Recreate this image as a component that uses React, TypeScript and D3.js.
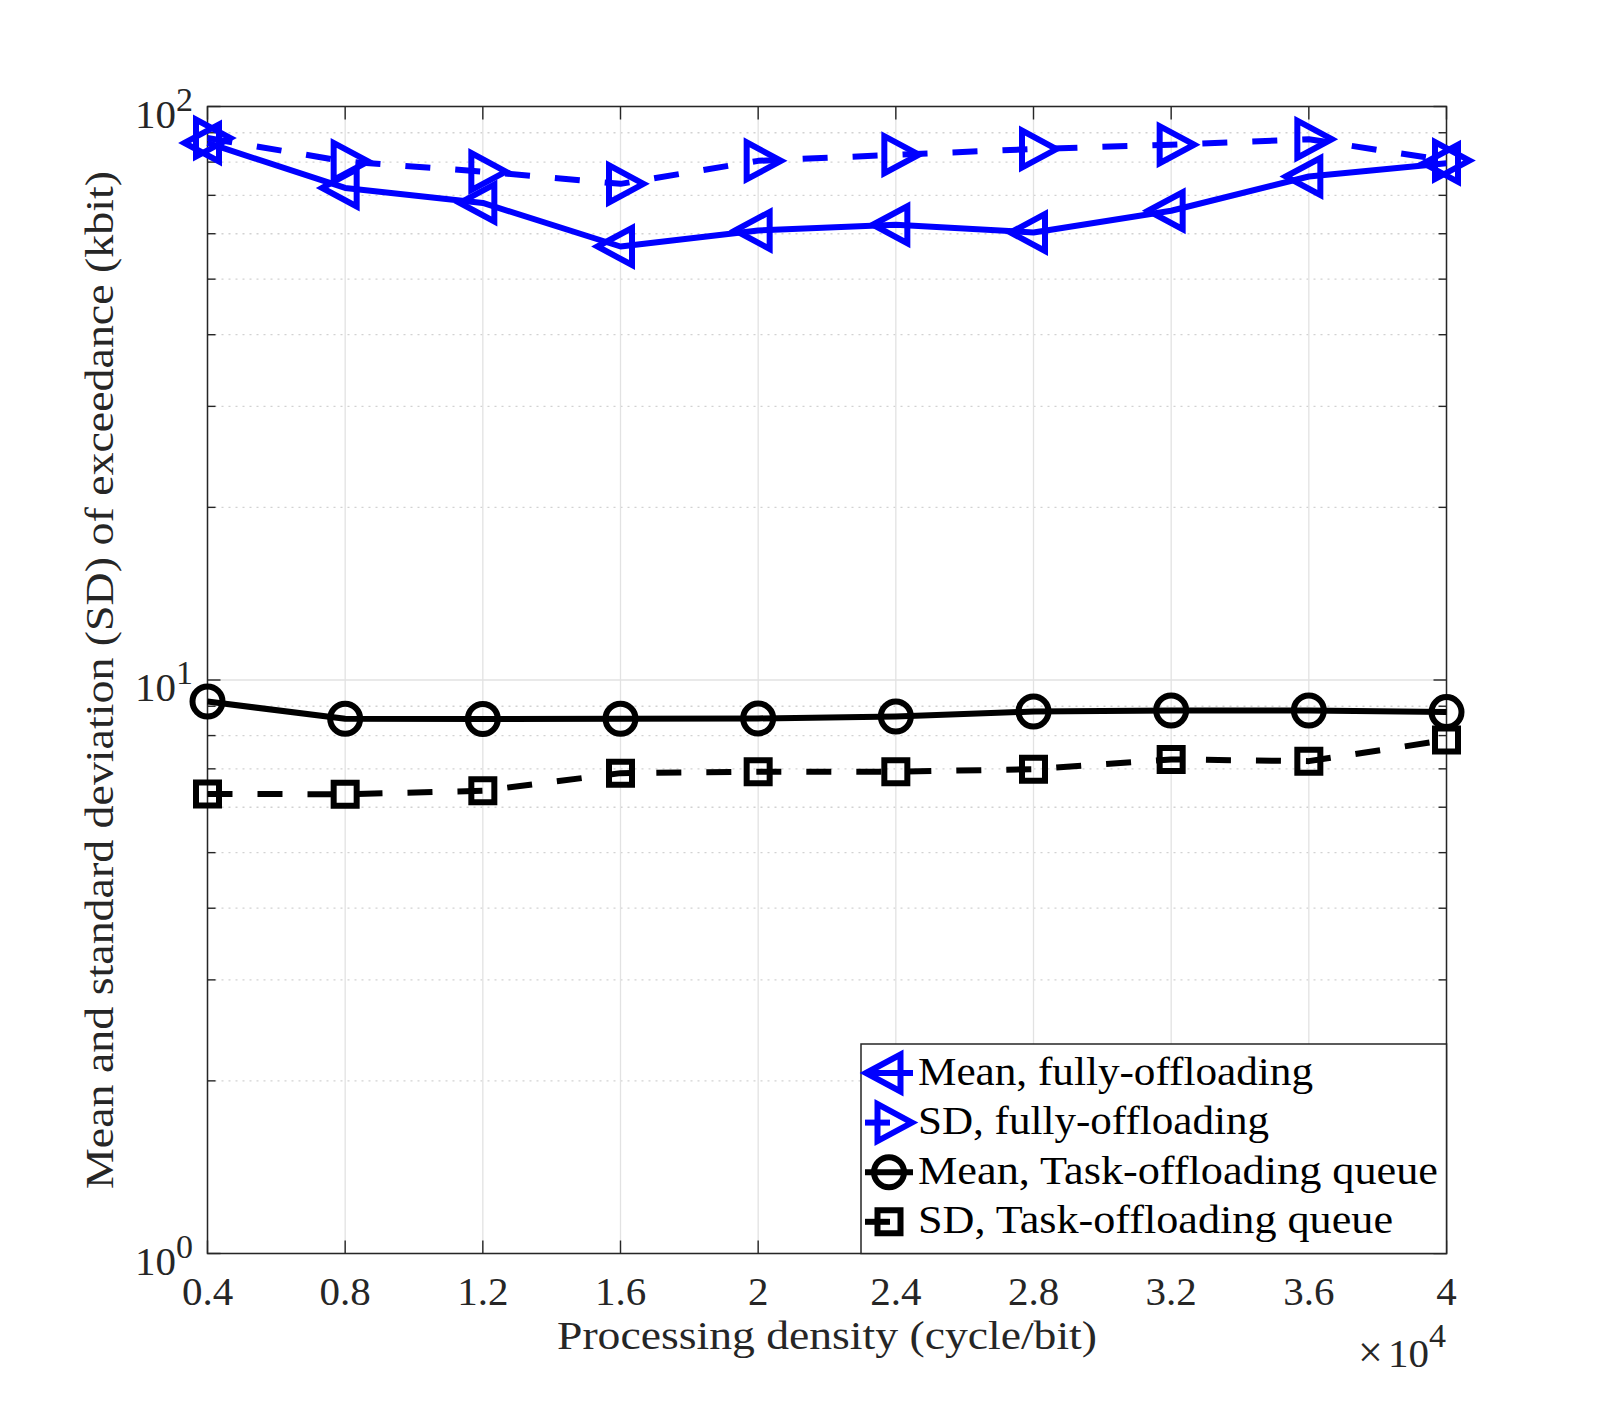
import React, { useEffect, useRef } from 'react';
import * as d3 from 'd3';

// processing density, in units of 10^4 cycle/bit
const processingDensity = [0.4, 0.8, 1.2, 1.6, 2.0, 2.4, 2.8, 3.2, 3.6, 4.0];
const xTickLabels = ['0.4', '0.8', '1.2', '1.6', '2', '2.4', '2.8', '3.2', '3.6', '4'];

// kbit
const meanFully = [86.4, 72.1, 67.9, 57.0, 60.8, 62.2, 60.3, 65.8, 75.5, 79.6];
const sdFully = [88.1, 80.2, 77.0, 73.3, 80.4, 82.4, 84.3, 85.8, 87.7, 80.5];
const meanTask = [9.17, 8.56, 8.55, 8.56, 8.57, 8.64, 8.81, 8.85, 8.85, 8.79];
const sdTask = [6.33, 6.32, 6.41, 6.88, 6.92, 6.92, 6.99, 7.27, 7.22, 7.86];

const yTickExponents = [0, 1, 2];
const legendLabels = [
  'Mean, fully-offloading',
  'SD, fully-offloading',
  'Mean, Task-offloading queue',
  'SD, Task-offloading queue',
];

const App = () => {
  const chartRef = useRef<SVGSVGElement>(null);

  useEffect(() => {
    const svg = d3.select(chartRef.current);
    svg.selectAll('*').remove();

    const left = 207.5;
    const right = 1446.5;
    const top = 106.5;
    const bottom = 1253.5;
    const font = '"Liberation Serif", "Times New Roman", serif';
    const axisColor = '#262626';
    const blue = '#0000ff';

    const x = d3.scaleLinear().domain([0.4, 4]).range([left, right]);
    const y = d3.scaleLog().domain([1, 100]).range([bottom, top]);

    // minor grid (dotted)
    const minorVals: number[] = [];
    [1, 10].forEach((dec) => {
      for (let k = 2; k <= 9; k++) minorVals.push(k * dec);
    });
    svg
      .append('g')
      .selectAll('line')
      .data(minorVals)
      .enter()
      .append('line')
      .attr('x1', left)
      .attr('x2', right)
      .attr('y1', (d) => y(d))
      .attr('y2', (d) => y(d))
      .attr('stroke', '#d2d2d2')
      .attr('stroke-width', 1.3)
      .attr('stroke-dasharray', '2,5');

    // major grid
    svg
      .append('g')
      .selectAll('line')
      .data(processingDensity)
      .enter()
      .append('line')
      .attr('x1', (d) => x(d))
      .attr('x2', (d) => x(d))
      .attr('y1', top)
      .attr('y2', bottom)
      .attr('stroke', '#e2e2e2')
      .attr('stroke-width', 1.3);
    svg
      .append('g')
      .selectAll('line')
      .data(yTickExponents.map((e) => Math.pow(10, e)))
      .enter()
      .append('line')
      .attr('x1', left)
      .attr('x2', right)
      .attr('y1', (d) => y(d))
      .attr('y2', (d) => y(d))
      .attr('stroke', '#e2e2e2')
      .attr('stroke-width', 1.3);

    // ticks (inside, on all four sides)
    const ticks = svg.append('g').attr('stroke', axisColor).attr('stroke-width', 1.4);
    processingDensity.forEach((d) => {
      ticks.append('line').attr('x1', x(d)).attr('x2', x(d)).attr('y1', bottom).attr('y2', bottom - 13);
      ticks.append('line').attr('x1', x(d)).attr('x2', x(d)).attr('y1', top).attr('y2', top + 13);
    });
    yTickExponents.forEach((e) => {
      const v = Math.pow(10, e);
      ticks.append('line').attr('x1', left).attr('x2', left + 13).attr('y1', y(v)).attr('y2', y(v));
      ticks.append('line').attr('x1', right).attr('x2', right - 13).attr('y1', y(v)).attr('y2', y(v));
    });
    minorVals.forEach((v) => {
      ticks.append('line').attr('x1', left).attr('x2', left + 8).attr('y1', y(v)).attr('y2', y(v));
      ticks.append('line').attr('x1', right).attr('x2', right - 8).attr('y1', y(v)).attr('y2', y(v));
    });

    // axes box
    svg
      .append('rect')
      .attr('x', left)
      .attr('y', top)
      .attr('width', right - left)
      .attr('height', bottom - top)
      .attr('fill', 'none')
      .attr('stroke', axisColor)
      .attr('stroke-width', 1.5);

    // x tick labels
    svg
      .append('g')
      .selectAll('text')
      .data(processingDensity)
      .enter()
      .append('text')
      .attr('x', (d) => x(d))
      .attr('y', 1305)
      .attr('text-anchor', 'middle')
      .attr('font-family', font)
      .attr('font-size', 41)
      .attr('fill', axisColor)
      .text((d, i) => xTickLabels[i]);

    // y tick labels 10^e
    yTickExponents.forEach((e) => {
      const ty = y(Math.pow(10, e));
      svg
        .append('text')
        .attr('x', 176)
        .attr('y', ty + 21)
        .attr('text-anchor', 'end')
        .attr('font-family', font)
        .attr('font-size', 41)
        .attr('fill', axisColor)
        .text('10');
      svg
        .append('text')
        .attr('x', 176)
        .attr('y', ty + 4)
        .attr('font-family', font)
        .attr('font-size', 34)
        .attr('fill', axisColor)
        .text(String(e));
    });

    // x exponent
    svg
      .append('text')
      .attr('x', 1358)
      .attr('y', 1367)
      .attr('font-family', font)
      .attr('font-size', 44)
      .attr('fill', axisColor)
      .text('×');
    svg
      .append('text')
      .attr('x', 1388)
      .attr('y', 1367)
      .attr('font-family', font)
      .attr('font-size', 41)
      .attr('fill', axisColor)
      .text('10');
    svg
      .append('text')
      .attr('x', 1429)
      .attr('y', 1347)
      .attr('font-family', font)
      .attr('font-size', 34)
      .attr('fill', axisColor)
      .text('4');

    // axis labels
    svg
      .append('text')
      .attr('x', (left + right) / 2)
      .attr('y', 1349)
      .attr('text-anchor', 'middle')
      .attr('font-family', font)
      .attr('font-size', 41)
      .attr('textLength', 540)
      .attr('lengthAdjust', 'spacingAndGlyphs')
      .attr('fill', axisColor)
      .text('Processing density (cycle/bit)');
    svg
      .append('text')
      .attr('transform', `translate(113, ${(top + bottom) / 2}) rotate(-90)`)
      .attr('text-anchor', 'middle')
      .attr('font-family', font)
      .attr('font-size', 41)
      .attr('textLength', 1018)
      .attr('lengthAdjust', 'spacingAndGlyphs')
      .attr('fill', axisColor)
      .text('Mean and standard deviation (SD) of exceedance (kbit)');

    // series
    const series = [
      { values: meanFully, color: blue, dash: null, marker: 'left' },
      { values: sdFully, color: blue, dash: '25,25', marker: 'right' },
      { values: meanTask, color: '#000', dash: null, marker: 'circle' },
      { values: sdTask, color: '#000', dash: '25,25', marker: 'square' },
    ];

    const drawMarker = (g: any, kind: string, color: string) => {
      if (kind === 'circle') {
        g.append('circle').attr('r', 15);
      } else {
        const d =
          kind === 'left'
            ? 'M-23,0L11.5,-18.5L11.5,18.5Z'
            : kind === 'right'
            ? 'M23,0L-11.5,-18.5L-11.5,18.5Z'
            : 'M-11.5,-11.5H11.5V11.5H-11.5Z';
        g.append('path').attr('d', d);
      }
      g.selectAll('*')
        .attr('fill', 'none')
        .attr('stroke', color)
        .attr('stroke-width', 6)
        .attr('stroke-linejoin', 'miter');
    };

    const line = d3
      .line<number>()
      .x((d, i) => x(processingDensity[i]))
      .y((d) => y(d));

    series.forEach((s) => {
      svg
        .append('path')
        .attr('d', line(s.values))
        .attr('fill', 'none')
        .attr('stroke', s.color)
        .attr('stroke-width', 6)
        .attr('stroke-dasharray', s.dash)
        .attr('stroke-linejoin', 'round');
      s.values.forEach((v, i) => {
        const g = svg.append('g').attr('transform', `translate(${x(processingDensity[i])}, ${y(v)})`);
        drawMarker(g, s.marker, s.color);
      });
    });

    // legend
    const lg = svg.append('g');
    lg.append('rect')
      .attr('x', 861)
      .attr('y', 1044)
      .attr('width', right - 861)
      .attr('height', bottom - 1044)
      .attr('fill', '#fff')
      .attr('stroke', axisColor)
      .attr('stroke-width', 1.5);
    const legendWidths = [395, 351, 520, 475];
    series.forEach((s, i) => {
      const cy = 1073 + i * 49.6;
      lg.append('line')
        .attr('x1', 865)
        .attr('x2', 913)
        .attr('y1', cy)
        .attr('y2', cy)
        .attr('stroke', s.color)
        .attr('stroke-width', 6)
        .attr('stroke-dasharray', s.dash);
      const g = lg.append('g').attr('transform', `translate(889, ${cy})`);
      drawMarker(g, s.marker, s.color);
      lg.append('text')
        .attr('x', 918)
        .attr('y', cy + 11.5)
        .attr('font-family', font)
        .attr('font-size', 41)
        .attr('textLength', legendWidths[i])
        .attr('lengthAdjust', 'spacingAndGlyphs')
        .attr('fill', '#000')
        .text(legendLabels[i]);
    });
  }, []);

  return (
    <svg
      ref={chartRef}
      width={1598}
      height={1409}
      style={{ position: 'absolute', left: 0, top: 0, background: '#fff' }}
    />
  );
};

export default App;
